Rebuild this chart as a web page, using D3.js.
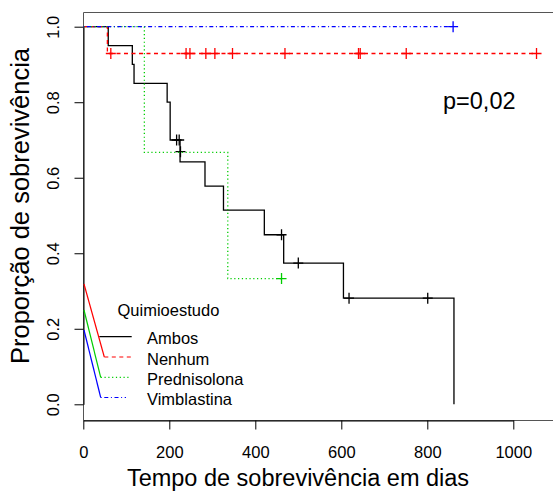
<!DOCTYPE html>
<html>
<head>
<meta charset="utf-8">
<script src="https://cdn.jsdelivr.net/npm/d3@7"></script>
<style>
  body { margin: 0; background: #fff; }
  svg { display: block; font-family: "Liberation Sans", Arial, sans-serif; }
</style>
</head>
<body>
<svg id="chart" width="553" height="492"></svg>
<script>
// Kaplan-Meier curves (days, survival proportion)
const ambosTimes = [0, 58, 114, 118, 195, 202, 225, 283, 326, 421, 466, 605, 862];
const ambosSurv = [1, 0.95, 0.90, 0.85, 0.80, 0.70, 0.642, 0.578, 0.514, 0.449, 0.374, 0.281, 0];
const ambosEnd = 862;
const ambosCensor = [[217, 0.70], [223, 0.70], [226, 0.669], [461, 0.449], [500, 0.374], [618, 0.281], [801, 0.281]];

const nenhumTimes = [0, 56];
const nenhumSurv = [1, 0.929];
const nenhumEnd = 1054;
const nenhumCensor = [64, 239, 248, 285, 306, 347, 469, 640, 644, 751, 1054];

const prednTimes = [0, 142, 336];
const prednSurv = [1, 0.667, 0.333];
const prednEnd = 461;
const prednCensor = [461];

const vimbTimes = [0];
const vimbSurv = [1];
const vimbEnd = 860;
const vimbCensor = [860];

const groupNames = ['Ambos', 'Nenhum', 'Prednisolona', 'Vimblastina'];
const groupColors = ['#000000', '#ff0000', '#00cd00', '#0000ff'];
const groupDash = [null, '4,3.5', '1.2,2.6', '1,2.6,4,2.6'];

const xTicks = [0, 200, 400, 600, 800, 1000];
const yTicks = [0, 0.2, 0.4, 0.6, 0.8, 1.0];

const svg = d3.select('#chart');

const x = d3.scaleLinear().domain([0, 1000]).range([83.3, 513.3]);
const y = d3.scaleLinear().domain([0, 1]).range([404.3, 26.7]);

// step value at time t
function survAt(times, surv, t) {
  let s = surv[0];
  times.forEach((d, i) => { if (d <= t) s = surv[i]; });
  return s;
}

const series = [
  {times: ambosTimes, surv: ambosSurv, end: ambosEnd,
   censor: ambosCensor},
  {times: nenhumTimes, surv: nenhumSurv, end: nenhumEnd,
   censor: nenhumCensor.map(t => [t, survAt(nenhumTimes, nenhumSurv, t)])},
  {times: prednTimes, surv: prednSurv, end: prednEnd,
   censor: prednCensor.map(t => [t, survAt(prednTimes, prednSurv, t)])},
  {times: vimbTimes, surv: vimbSurv, end: vimbEnd,
   censor: vimbCensor.map(t => [t, survAt(vimbTimes, vimbSurv, t)])},
];

// frame (right side runs past the picture)
svg.append('path')
    .attr('d', 'M83.5,420.5 V12.5 H600')
    .attr('fill', 'none')
    .attr('stroke', '#555')
    .attr('stroke-width', 1);
svg.append('line')
    .attr('x1', 83.5).attr('x2', 600)
    .attr('y1', 420.5).attr('y2', 420.5)
    .attr('stroke', '#555');

// x axis
const xAxis = svg.append('g')
    .attr('transform', 'translate(0,420.5)')
    .call(d3.axisBottom(x).tickValues(xTicks).tickSize(9).tickSizeOuter(0).tickFormat(d3.format('d')));
xAxis.select('.domain').attr('stroke', '#000');
xAxis.selectAll('.tick line').attr('stroke', '#000');
xAxis.selectAll('text')
    .attr('y', 37)
    .attr('dy', 0)
    .attr('fill', '#000')
    .style('font-size', '16.5px')
    .style('font-family', '"Liberation Sans", Arial, sans-serif');

// y axis
const yAxis = svg.append('g')
    .attr('transform', 'translate(83.5,0)')
    .call(d3.axisLeft(y).tickValues(yTicks).tickSize(9).tickSizeOuter(0).tickFormat(d3.format('.1f')));
yAxis.select('.domain').attr('stroke', '#000');
yAxis.selectAll('.tick line').attr('stroke', '#000');
yAxis.selectAll('text')
    .attr('transform', 'rotate(-90)')
    .attr('x', 0)
    .attr('y', -24.5)
    .attr('dy', 0)
    .attr('text-anchor', 'middle')
    .attr('fill', '#000')
    .style('font-size', '16.5px')
    .style('font-family', '"Liberation Sans", Arial, sans-serif');

// axis titles
svg.append('text')
    .attr('x', 298)
    .attr('y', 486)
    .attr('text-anchor', 'middle')
    .style('font-size', '23.5px')
    .text('Tempo de sobrevivência em dias');

svg.append('text')
    .attr('transform', 'translate(29,206) rotate(-90)')
    .attr('text-anchor', 'middle')
    .style('font-size', '25.5px')
    .text('Proporção de sobrevivência');

// curves
const stepLine = d3.line()
    .x(d => x(d[0]))
    .y(d => y(d[1]))
    .curve(d3.curveStepAfter);

series.forEach((s, i) => {
  const pts = s.times.map((t, j) => [t, s.surv[j]]);
  pts.push([s.end, s.surv[s.surv.length - 1]]);

  svg.append('path')
      .datum(pts)
      .attr('d', stepLine)
      .attr('fill', 'none')
      .attr('stroke', groupColors[i])
      .attr('stroke-width', 1.3)
      .attr('stroke-dasharray', groupDash[i]);

  svg.append('g')
    .selectAll('path')
    .data(s.censor)
    .join('path')
      .attr('d', d => `M${x(d[0]) - 5},${y(d[1])}h10M${x(d[0])},${y(d[1]) - 5.5}v11`)
      .attr('stroke', groupColors[i])
      .attr('stroke-width', 1.3);
});

// p value
svg.append('text')
    .attr('x', 443)
    .attr('y', 109)
    .style('font-size', '23.5px')
    .text('p=0,02');

// legend
const legend = svg.append('g');

legend.append('text')
    .attr('x', 117.5)
    .attr('y', 316)
    .style('font-size', '16.5px')
    .text('Quimioestudo');

const legendY = [336.7, 357, 377.3, 397.5];
const legendStart = [99.3, 104.3, 100.7, 100.7];
const legendEnd = [131.7, 131, 131, 126];
const leaderTop = [null, 284, 310, 330];

groupNames.forEach((name, i) => {
  if (leaderTop[i] !== null) {
    legend.append('line')
        .attr('x1', 84).attr('y1', leaderTop[i])
        .attr('x2', legendStart[i]).attr('y2', legendY[i])
        .attr('stroke', groupColors[i])
        .attr('stroke-width', 1.2);
  }
  legend.append('line')
      .attr('x1', legendStart[i]).attr('x2', legendEnd[i])
      .attr('y1', legendY[i]).attr('y2', legendY[i])
      .attr('stroke', groupColors[i])
      .attr('stroke-width', 1.2)
      .attr('stroke-dasharray', groupDash[i]);
  legend.append('text')
      .attr('x', 147)
      .attr('y', legendY[i] + 7.5)
      .style('font-size', '16.5px')
      .text(name);
});
</script>
</body>
</html>
